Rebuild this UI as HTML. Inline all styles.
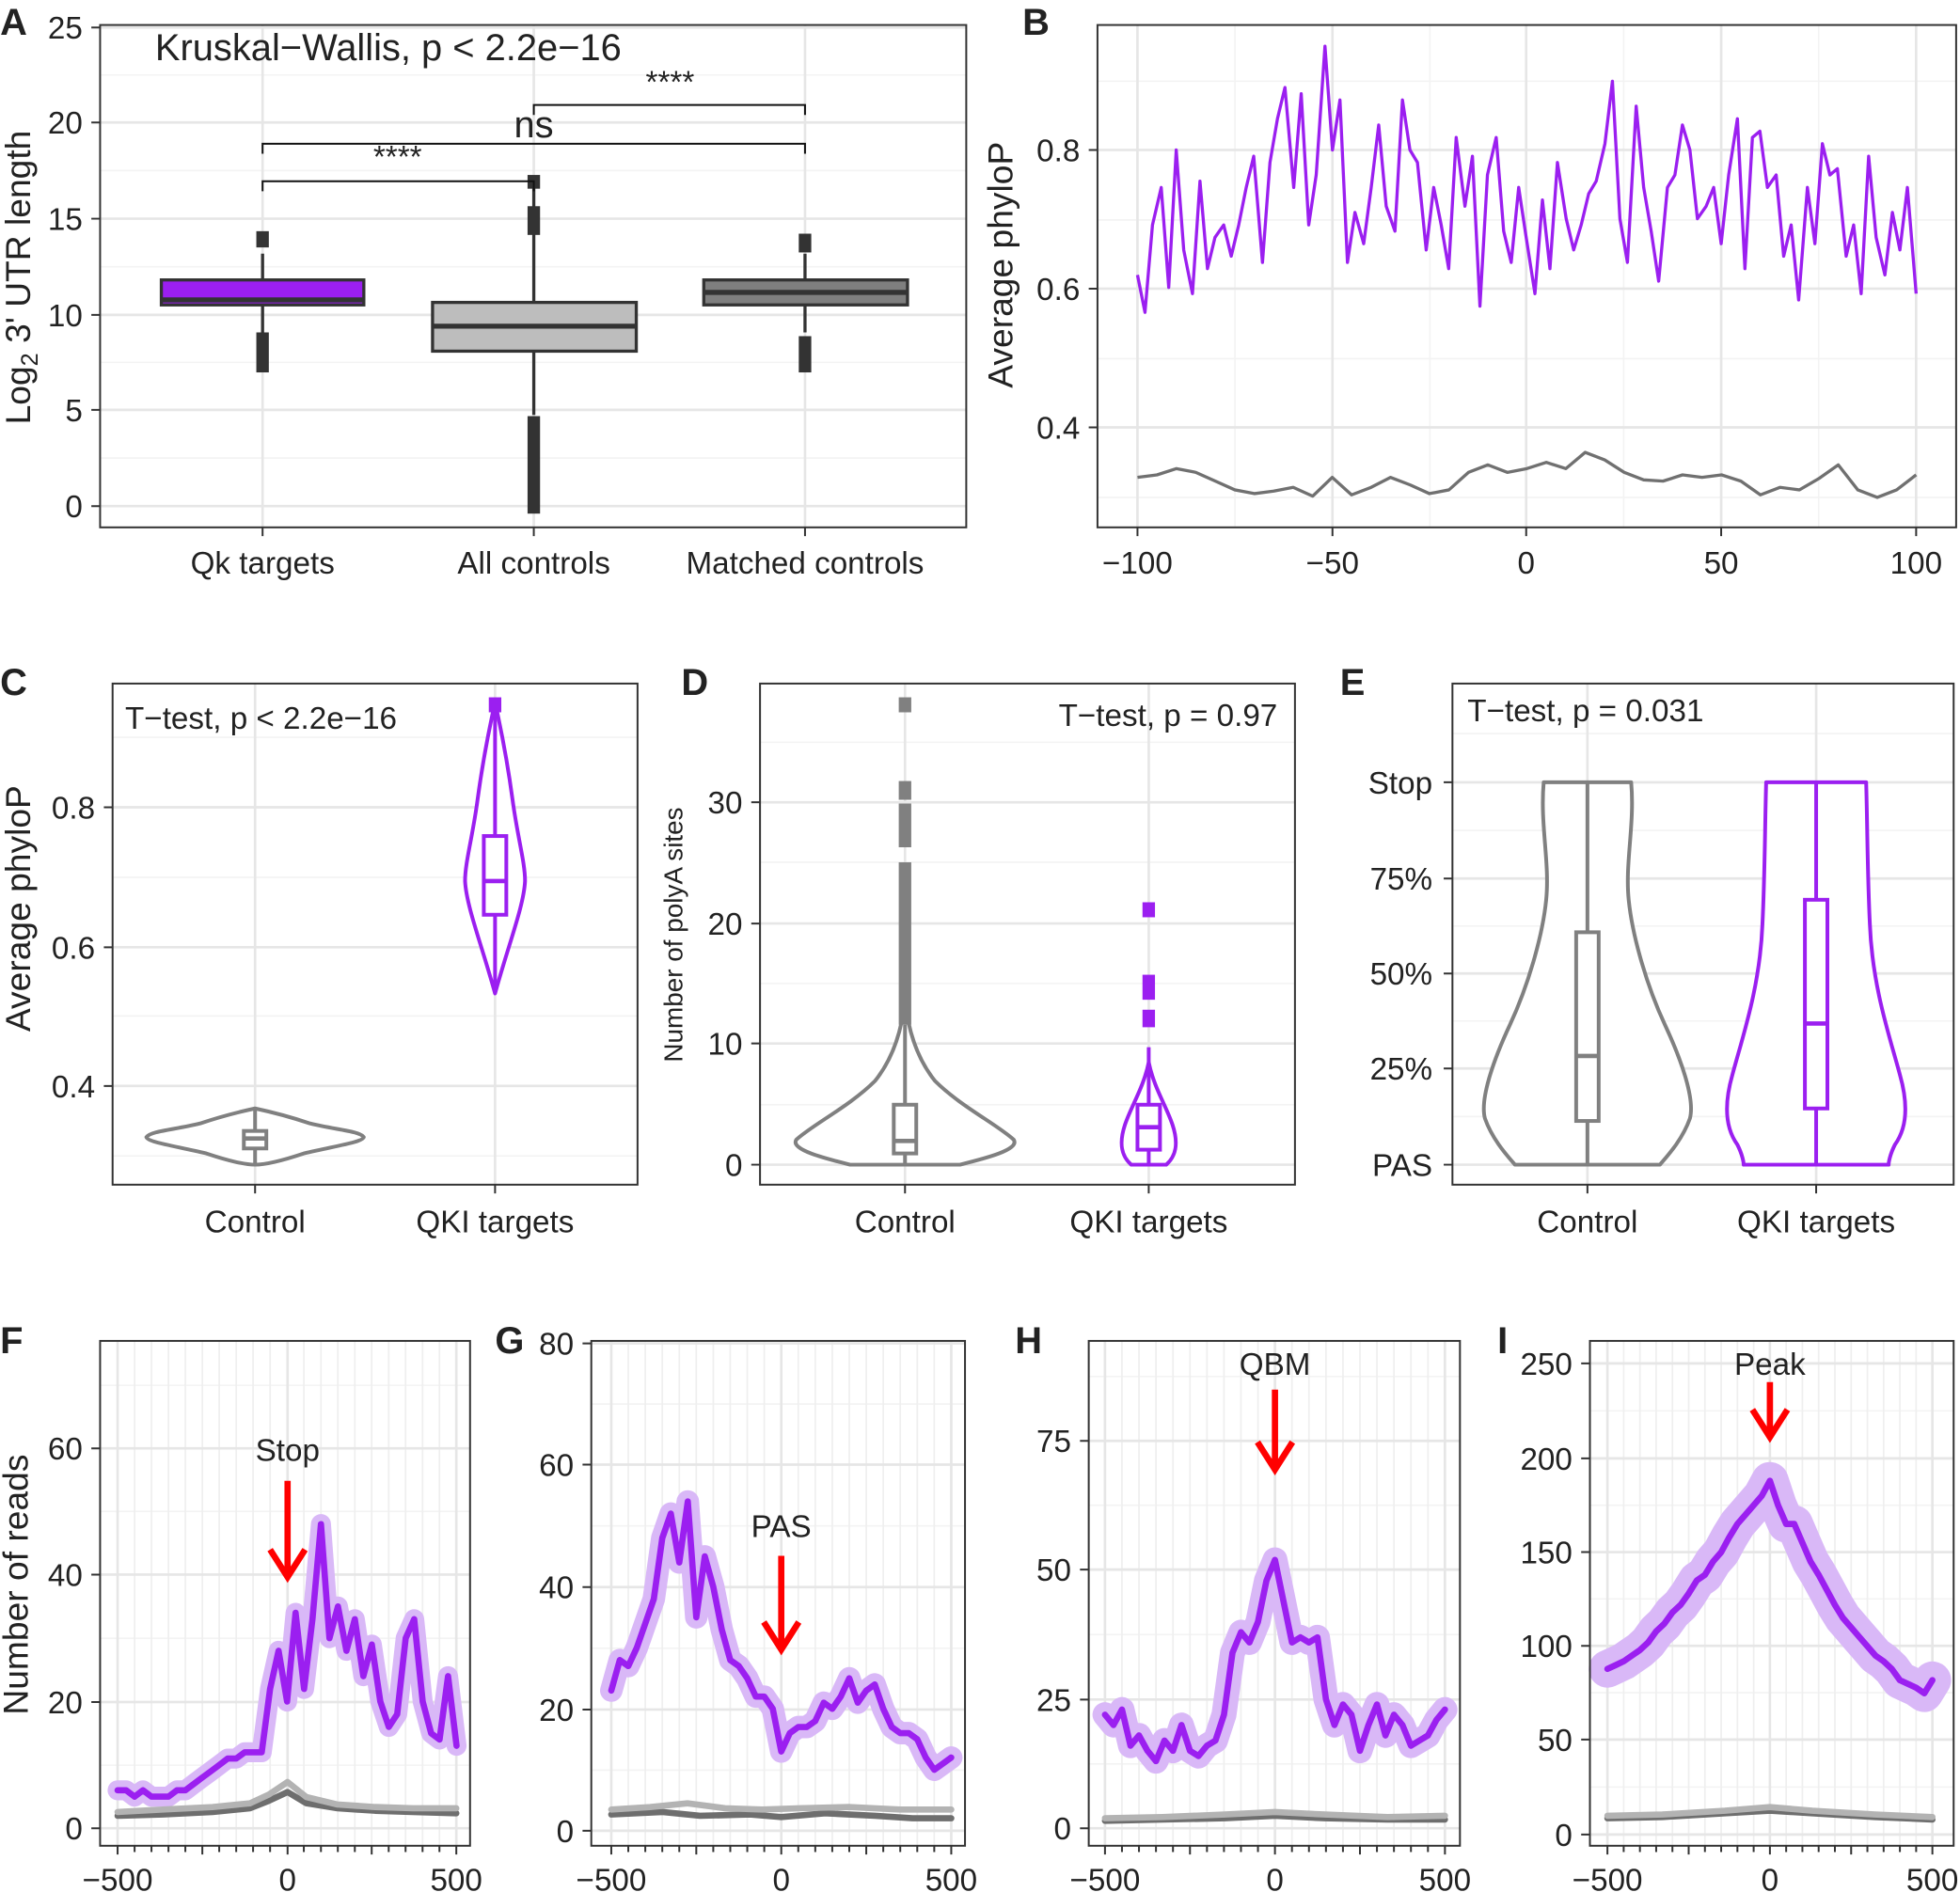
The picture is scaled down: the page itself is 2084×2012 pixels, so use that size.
<!DOCTYPE html>
<html><head><meta charset="utf-8"><style>
html,body{margin:0;padding:0;background:#fff}
svg{display:block}
text{font-family:"Liberation Sans",sans-serif;fill:#222}
</style></head><body>
<svg width="2084" height="2012" viewBox="0 0 1568 1514" xmlns="http://www.w3.org/2000/svg">
<rect width="1568" height="1514" fill="#fff"/>
<!-- minor grid -->
<g fill="none" stroke="#f3f3f3" stroke-width="1.2">
<path d="M80 366.5H773M80 290H773M80 213.5H773M80 136.5H773M80 60H773"/>
<path d="M878 398H1565M878 287H1565M878 176H1565M878 65H1565M988 20V422M1144 20V422M1299 20V422M1455 20V422"/>
<path d="M90 925H510M90 813H510M90 702H510M90 590H510"/>
<path d="M608 884H1036M608 787H1036M608 690H1036M608 594H1036"/>
<path d="M1162 893.5H1563M1162 817H1563M1162 741H1563M1162 664.5H1563M1162 587H1563"/>
<path d="M80 1412.5H376M80 1311H376M80 1209.5H376M80 1108.5H376"/>
<path d="M473 1416.5H772M473 1319H772M473 1221H772M473 1123.5H772"/>
<path d="M871 1411.5H1168M871 1308H1168M871 1204.5H1168M871 1101.5H1168"/>
<path d="M1272 1430H1563M1272 1354.5H1563M1272 1279.5H1563M1272 1204.5H1563M1272 1129H1563"/>
</g>
<g fill="none" stroke="#efefef" stroke-width="1.3">
<path d="M107.6 1073V1477M121.1 1073V1477M134.7 1073V1477M148.2 1073V1477M161.8 1073V1477M175.3 1073V1477M188.9 1073V1477M202.4 1073V1477M216 1073V1477M243 1073V1477M256.7 1073V1477M270.2 1073V1477M283.8 1073V1477M297.3 1073V1477M310.9 1073V1477M324.4 1073V1477M338 1073V1477M351.5 1073V1477"/>
<path d="M502.6 1073V1477M516.2 1073V1477M529.8 1073V1477M543.4 1073V1477M557 1073V1477M570.6 1073V1477M584.2 1073V1477M597.8 1073V1477M611.4 1073V1477M638.6 1073V1477M652.2 1073V1477M665.8 1073V1477M679.4 1073V1477M693 1073V1477M706.6 1073V1477M720.2 1073V1477M733.8 1073V1477M747.4 1073V1477"/>
<path d="M897.6 1073V1477M911.2 1073V1477M924.8 1073V1477M938.4 1073V1477M952 1073V1477M965.6 1073V1477M979.2 1073V1477M992.8 1073V1477M1006.4 1073V1477M1033.6 1073V1477M1047.2 1073V1477M1060.8 1073V1477M1074.4 1073V1477M1088 1073V1477M1101.6 1073V1477M1115.2 1073V1477M1128.8 1073V1477M1142.4 1073V1477"/>
<path d="M1299 1073V1477M1312 1073V1477M1325 1073V1477M1338 1073V1477M1351 1073V1477M1364 1073V1477M1377 1073V1477M1390 1073V1477M1403 1073V1477M1429 1073V1477M1442 1073V1477M1455 1073V1477M1468 1073V1477M1481 1073V1477M1494 1073V1477M1507 1073V1477M1520 1073V1477M1533 1073V1477"/>
</g>
<!-- major grid -->
<g fill="none" stroke="#e6e6e6" stroke-width="2">
<path d="M80 405H773M80 328H773M80 252H773M80 175H773M80 98H773M80 22H773M210 20V422M427 20V422M644 20V422"/>
<path d="M878 342H1565M878 231H1565M878 120H1565M910 20V422M1066 20V422M1221 20V422M1377 20V422M1533 20V422"/>
<path d="M90 869H510M90 758H510M90 646H510M204 547V948M396 547V948"/>
<path d="M608 932H1036M608 835H1036M608 739H1036M608 642H1036M724 547V948M919 547V948"/>
<path d="M1162 932H1563M1162 855H1563M1162 779H1563M1162 703H1563M1162 626H1563M1270 547V948M1453 547V948"/>
<path d="M80 1463H376M80 1362H376M80 1260H376M80 1159H376M94 1073V1477M230 1073V1477M365 1073V1477"/>
<path d="M473 1465H772M473 1368H772M473 1270H772M473 1172H772M473 1075H772M489 1073V1477M625 1073V1477M761 1073V1477"/>
<path d="M871 1463H1168M871 1360H1168M871 1256H1168M871 1153H1168M884 1073V1477M1020 1073V1477M1156 1073V1477"/>
<path d="M1272 1468H1563M1272 1392H1563M1272 1317H1563M1272 1242H1563M1272 1167H1563M1272 1091H1563M1286 1073V1477M1416 1073V1477M1546 1073V1477"/>
</g>
<!-- ticks -->
<g fill="none" stroke="#333" stroke-width="1.5">
<path d="M73 405H80M73 328H80M73 252H80M73 175H80M73 98H80M73 22H80M210 422V429M427 422V429M644 422V429"/>
<path d="M871 342H878M871 231H878M871 120H878M910 422V429M1066 422V429M1221 422V429M1377 422V429M1533 422V429"/>
<path d="M83 869H90M83 758H90M83 646H90M204 948V955M396 948V955"/>
<path d="M601 932H608M601 835H608M601 739H608M601 642H608M724 948V955M919 948V955"/>
<path d="M1155 932H1162M1155 855H1162M1155 779H1162M1155 703H1162M1155 626H1162M1270 948V955M1453 948V955"/>
<path d="M73 1463H80M73 1362H80M73 1260H80M73 1159H80"/>
<path d="M466 1465H473M466 1368H473M466 1270H473M466 1172H473M466 1075H473"/>
<path d="M864 1463H871M864 1360H871M864 1256H871M864 1153H871"/>
<path d="M1265 1468H1272M1265 1392H1272M1265 1317H1272M1265 1242H1272M1265 1167H1272M1265 1091H1272"/>
<path d="M94 1477V1484M107.6 1477V1482M121.1 1477V1482M134.7 1477V1482M148.2 1477V1482M161.8 1477V1484M175.3 1477V1482M188.9 1477V1482M202.4 1477V1482M216 1477V1482M230 1477V1484M243 1477V1482M256.7 1477V1482M270.2 1477V1482M283.8 1477V1482M297.3 1477V1484M310.9 1477V1482M324.4 1477V1482M338 1477V1482M351.5 1477V1482M365 1477V1484"/>
<path d="M489 1477V1484M502.6 1477V1482M516.2 1477V1482M529.8 1477V1482M543.4 1477V1482M557 1477V1484M570.6 1477V1482M584.2 1477V1482M597.8 1477V1482M611.4 1477V1482M625 1477V1484M638.6 1477V1482M652.2 1477V1482M665.8 1477V1482M679.4 1477V1482M693 1477V1484M706.6 1477V1482M720.2 1477V1482M733.8 1477V1482M747.4 1477V1482M761 1477V1484"/>
<path d="M884 1477V1484M897.6 1477V1482M911.2 1477V1482M924.8 1477V1482M938.4 1477V1482M952 1477V1484M965.6 1477V1482M979.2 1477V1482M992.8 1477V1482M1006.4 1477V1482M1020 1477V1484M1033.6 1477V1482M1047.2 1477V1482M1060.8 1477V1482M1074.4 1477V1482M1088 1477V1484M1101.6 1477V1482M1115.2 1477V1482M1128.8 1477V1482M1142.4 1477V1482M1156 1477V1484"/>
<path d="M1286 1477V1484M1299 1477V1482M1312 1477V1482M1325 1477V1482M1338 1477V1482M1351 1477V1484M1364 1477V1482M1377 1477V1482M1390 1477V1482M1403 1477V1482M1416 1477V1484M1429 1477V1482M1442 1477V1482M1455 1477V1482M1468 1477V1482M1481 1477V1484M1494 1477V1482M1507 1477V1482M1520 1477V1482M1533 1477V1482M1546 1477V1484"/>
</g>

<!-- Panel A boxes -->
<g stroke="#333" stroke-width="2.5">
<line x1="210" y1="203" x2="210" y2="266"/>
<rect x="129" y="224" width="162" height="20" fill="#9b1ff0"/>
<line x1="129" y1="240" x2="291" y2="240" stroke-width="4"/>
<line x1="427" y1="150" x2="427" y2="332"/>
<rect x="346" y="242" width="163" height="39" fill="#bdbdbd"/>
<line x1="346" y1="261" x2="509" y2="261" stroke-width="4"/>
<line x1="644" y1="203" x2="644" y2="266"/>
<rect x="563" y="224" width="163" height="20" fill="#7f7f7f"/>
<line x1="563" y1="234" x2="726" y2="234" stroke-width="4"/>
</g>
<g fill="#333">
<rect x="205" y="185" width="10" height="13"/><rect x="205" y="266" width="10" height="32"/>
<rect x="422" y="140" width="10" height="11"/><rect x="422" y="165" width="10" height="23"/><rect x="422" y="333" width="10" height="78"/>
<rect x="639" y="187" width="10" height="15"/><rect x="639" y="269" width="10" height="29"/>
</g>
<g fill="none" stroke="#111" stroke-width="1.5">
<path d="M210 153 V145 H427 V153"/><path d="M210 123 V115 H644 V123"/><path d="M427 92 V84 H644 V92"/>
</g>

<!-- Panel B lines -->
<polyline fill="none" stroke="#9b1ff0" stroke-width="2.5" stroke-linejoin="round" points="910,220 916,250 922,180 929,150 935,230 941,120 947,200 954,235 960,145 966,215 972,190 979,180 985,205 991,180 997,150 1003,125 1010,210 1016,130 1022,95 1028,70 1035,150 1041,75 1047,180 1053,140 1060,37 1066,120 1072,80 1078,210 1084,170 1091,195 1097,150 1103,100 1109,165 1116,185 1122,80 1128,120 1134,130 1141,200 1147,150 1153,180 1159,215 1165,110 1172,165 1178,125 1184,245 1190,140 1197,110 1203,185 1209,210 1215,150 1221,190 1228,235 1234,160 1240,215 1246,130 1253,175 1259,200 1265,180 1271,155 1277,145 1284,115 1290,65 1296,175 1302,210 1309,85 1315,150 1321,185 1327,225 1334,150 1340,140 1346,100 1352,120 1358,175 1365,165 1371,150 1377,195 1383,140 1390,95 1396,215 1402,110 1408,105 1414,150 1421,140 1427,205 1433,180 1439,240 1446,150 1452,195 1458,115 1464,140 1470,135 1477,205 1483,180 1489,235 1495,125 1501,190 1508,220 1514,170 1520,200 1526,150 1533,235"/>
<polyline fill="none" stroke="#707070" stroke-width="2.5" stroke-linejoin="round" points="910,382 925.6,380 941.2,375 956.7,378 972.3,385 987.9,392 1003.5,395 1019,393 1034.6,390 1050.2,397 1065.8,382 1081.3,396 1096.9,390 1112.5,382 1128.1,388 1143.6,395 1159.2,392 1174.8,378 1190.4,372 1205.9,378 1221.5,375 1237.1,370 1252.7,375 1268.2,362 1283.8,368 1299.4,378 1315,384 1330.5,385 1346.1,380 1361.7,382 1377.3,380 1392.8,385 1408.4,396 1424,390 1439.6,392 1455.1,383 1470.7,372 1486.3,392 1501.9,398 1517.4,392 1533,380"/>

<!-- Violins C -->
<g fill="#fff" stroke-width="3" stroke-linejoin="round">
<path stroke="#808080" d="M204 887 C190 890 175 894 160 899 C140 904 120 905 117 910 C118 914 140 917 165 923 C180 928 195 932 204 932 C213 932 228 928 243 923 C268 917 290 914 291 910 C288 905 268 904 248 899 C233 894 218 890 204 887Z"/>
<path stroke="#9b1ff0" d="M396 562 C392 580 386 610 382 640 C378 670 372 690 372 705 C373 725 385 755 396 795 C407 755 419 725 420 705 C420 690 414 670 410 640 C406 610 400 580 396 562Z"/>
<path stroke="#808080" d="M724 800 C722 820 716 845 700 865 C680 885 650 900 637 912 C632 920 660 927 680 932 H768 C788 927 816 920 811 912 C798 900 768 885 748 865 C732 845 726 820 724 800Z"/>
<path stroke="#9b1ff0" d="M919 850 C915 870 905 885 900 900 C895 915 897 925 905 932 H933 C941 925 943 915 938 900 C933 885 923 870 919 850Z"/>
<path stroke="#808080" d="M1235 626 H1305 C1308 660 1300 690 1303 720 C1306 750 1318 790 1332 820 C1346 850 1356 880 1352 895 C1346 912 1334 925 1328 932 H1212 C1206 925 1194 912 1188 895 C1184 880 1194 850 1208 820 C1222 790 1234 750 1237 720 C1240 690 1232 660 1235 626Z"/>
<path stroke="#9b1ff0" d="M1413 626 H1493 C1494 660 1494 700 1496 740 C1498 790 1512 830 1520 860 C1528 888 1524 905 1516 916 C1512 924 1511 930 1511 932 H1395 C1395 930 1394 924 1390 916 C1382 905 1378 888 1386 860 C1394 830 1408 790 1410 740 C1412 700 1412 660 1413 626Z"/>
</g>
<g stroke-width="3" fill="#fff">
<line x1="204" y1="887" x2="204" y2="932" stroke="#808080"/>
<rect x="195" y="905" width="18" height="14" stroke="#808080"/><line x1="195" y1="911" x2="213" y2="911" stroke="#808080" stroke-width="3.5"/>
<line x1="396" y1="562" x2="396" y2="795" stroke="#9b1ff0"/>
<rect x="387" y="669" width="18" height="63" stroke="#9b1ff0"/><line x1="387" y1="705" x2="405" y2="705" stroke="#9b1ff0" stroke-width="3.5"/>
<line x1="724" y1="820" x2="724" y2="932" stroke="#808080"/>
<rect x="715" y="884" width="18" height="39" stroke="#808080"/><line x1="715" y1="913" x2="733" y2="913" stroke="#808080" stroke-width="3.5"/>
<line x1="919" y1="838" x2="919" y2="932" stroke="#9b1ff0"/>
<rect x="910" y="884" width="18" height="36" stroke="#9b1ff0"/><line x1="910" y1="902" x2="928" y2="902" stroke="#9b1ff0" stroke-width="3.5"/>
<line x1="1270" y1="626" x2="1270" y2="932" stroke="#808080"/>
<rect x="1261" y="746" width="18" height="151" stroke="#808080"/><line x1="1261" y1="845" x2="1279" y2="845" stroke="#808080" stroke-width="3.5"/>
<line x1="1453" y1="626" x2="1453" y2="932" stroke="#9b1ff0"/>
<rect x="1444" y="720" width="18" height="167" stroke="#9b1ff0"/><line x1="1444" y1="819" x2="1462" y2="819" stroke="#9b1ff0" stroke-width="3.5"/>
</g>
<g fill="#9b1ff0"><rect x="391" y="558" width="10" height="12"/><rect x="914" y="722" width="10" height="12"/><rect x="914" y="780" width="10" height="20"/><rect x="914" y="808" width="10" height="14"/></g>
<g fill="#808080"><rect x="719" y="558" width="10" height="12"/><rect x="719" y="625" width="10" height="15"/><rect x="719" y="643" width="10" height="35"/><rect x="719" y="690" width="10" height="130"/></g>

<!-- F -->
<g fill="none" stroke-linejoin="round" stroke-linecap="round">
<polyline stroke="#d9b8f7" stroke-width="16" points="94,1432.6 100.8,1432.6 107.6,1437.7 114.3,1432.6 121.1,1437.7 127.9,1437.7 134.7,1437.7 141.5,1432.6 148.2,1432.6 155,1427.5 161.8,1422.4 168.6,1417.4 175.4,1412.3 182.1,1407.2 188.9,1407.2 195.7,1402.2 202.5,1402.2 209.3,1402.2 216,1351.5 222.8,1321 229.6,1361.6 236.4,1290.6 243.2,1351.5 249.9,1295.7 256.7,1219.6 263.5,1310.9 270.3,1285.5 277.1,1321 283.8,1295.7 290.6,1341.3 297.4,1316 304.2,1361.6 311,1381.9 317.7,1371.7 324.5,1310.9 331.3,1295.7 338.1,1361.6 344.9,1387 351.6,1392 358.4,1341.3 365.2,1397"/>
<polyline stroke="#6e6e6e" stroke-width="5" points="94,1453 130,1452 170,1450 200,1447 215,1441 230,1434 245,1443 270,1447 300,1449 330,1450 365,1451"/>
<polyline stroke="#b3b3b3" stroke-width="5" points="94,1450 130,1448 170,1446 200,1443 215,1436 230,1426 245,1438 270,1444 300,1446 330,1447 365,1447"/>
<polyline stroke="#9b1ff0" stroke-width="5" points="94,1432.6 100.8,1432.6 107.6,1437.7 114.3,1432.6 121.1,1437.7 127.9,1437.7 134.7,1437.7 141.5,1432.6 148.2,1432.6 155,1427.5 161.8,1422.4 168.6,1417.4 175.4,1412.3 182.1,1407.2 188.9,1407.2 195.7,1402.2 202.5,1402.2 209.3,1402.2 216,1351.5 222.8,1321 229.6,1361.6 236.4,1290.6 243.2,1351.5 249.9,1295.7 256.7,1219.6 263.5,1310.9 270.3,1285.5 277.1,1321 283.8,1295.7 290.6,1341.3 297.4,1316 304.2,1361.6 311,1381.9 317.7,1371.7 324.5,1310.9 331.3,1295.7 338.1,1361.6 344.9,1387 351.6,1392 358.4,1341.3 365.2,1397"/>
</g>
<!-- G -->
<g fill="none" stroke-linejoin="round" stroke-linecap="round">
<polyline stroke="#d9b8f7" stroke-width="18" points="489,1352.8 495.8,1328.4 502.6,1333.2 509.4,1318.6 516.2,1299.1 523,1279.6 529.8,1230.8 536.6,1211.2 543.4,1250.3 550.2,1201.5 557,1294.2 563.8,1245.4 570.6,1269.8 577.4,1304 584.2,1328.4 591,1333.2 597.8,1343 604.6,1357.6 611.4,1357.6 618.2,1367.4 625,1401.6 631.8,1386.9 638.6,1382 645.4,1382 652.2,1377.2 659,1362.5 665.8,1367.4 672.6,1357.6 679.4,1343 686.2,1362.5 693,1352.8 699.8,1347.9 706.6,1367.4 713.4,1382 720.2,1386.9 727,1386.9 733.8,1391.8 740.6,1406.4 747.4,1416.2 754.2,1411.3 761,1406.4"/>
<polyline stroke="#6e6e6e" stroke-width="5" points="489,1452 530,1450 560,1453 600,1452 625,1454 660,1451 700,1453 730,1455 761,1455"/>
<polyline stroke="#b3b3b3" stroke-width="5" points="489,1448 520,1446 550,1443 580,1447 610,1448 640,1447 680,1446 720,1448 761,1448"/>
<polyline stroke="#9b1ff0" stroke-width="5" points="489,1352.8 495.8,1328.4 502.6,1333.2 509.4,1318.6 516.2,1299.1 523,1279.6 529.8,1230.8 536.6,1211.2 543.4,1250.3 550.2,1201.5 557,1294.2 563.8,1245.4 570.6,1269.8 577.4,1304 584.2,1328.4 591,1333.2 597.8,1343 604.6,1357.6 611.4,1357.6 618.2,1367.4 625,1401.6 631.8,1386.9 638.6,1382 645.4,1382 652.2,1377.2 659,1362.5 665.8,1367.4 672.6,1357.6 679.4,1343 686.2,1362.5 693,1352.8 699.8,1347.9 706.6,1367.4 713.4,1382 720.2,1386.9 727,1386.9 733.8,1391.8 740.6,1406.4 747.4,1416.2 754.2,1411.3 761,1406.4"/>
</g>
<!-- H -->
<g fill="none" stroke-linejoin="round" stroke-linecap="round">
<polyline stroke="#d9b8f7" stroke-width="20" points="884,1372.1 890.8,1380.4 897.6,1368 904.4,1396.9 911.2,1388.7 918,1401 924.8,1409.3 931.6,1392.8 938.4,1401 945.2,1380.4 952,1401 958.8,1405.2 965.6,1396.9 972.4,1392.8 979.2,1372.1 986,1322.6 992.8,1306.1 999.6,1314.3 1006.4,1297.8 1013.2,1264.8 1020,1248.2 1026.8,1281.3 1033.6,1314.3 1040.4,1310.2 1047.2,1314.3 1054,1310.2 1060.8,1359.8 1067.6,1380.4 1074.4,1363.9 1081.2,1372.1 1088,1401 1094.8,1380.4 1101.6,1363.9 1108.4,1388.7 1115.2,1372.1 1122,1380.4 1128.8,1396.9 1135.6,1392.8 1142.4,1388.7 1149.2,1376.3 1156,1368"/>
<polyline stroke="#6e6e6e" stroke-width="5" points="884,1457 930,1456 980,1455 1020,1453 1060,1455 1110,1456 1156,1456"/>
<polyline stroke="#b3b3b3" stroke-width="5" points="884,1455 930,1454 980,1452 1020,1450 1060,1452 1110,1454 1156,1453"/>
<polyline stroke="#9b1ff0" stroke-width="5" points="884,1372.1 890.8,1380.4 897.6,1368 904.4,1396.9 911.2,1388.7 918,1401 924.8,1409.3 931.6,1392.8 938.4,1401 945.2,1380.4 952,1401 958.8,1405.2 965.6,1396.9 972.4,1392.8 979.2,1372.1 986,1322.6 992.8,1306.1 999.6,1314.3 1006.4,1297.8 1013.2,1264.8 1020,1248.2 1026.8,1281.3 1033.6,1314.3 1040.4,1310.2 1047.2,1314.3 1054,1310.2 1060.8,1359.8 1067.6,1380.4 1074.4,1363.9 1081.2,1372.1 1088,1401 1094.8,1380.4 1101.6,1363.9 1108.4,1388.7 1115.2,1372.1 1122,1380.4 1128.8,1396.9 1135.6,1392.8 1142.4,1388.7 1149.2,1376.3 1156,1368"/>
</g>
<!-- I -->
<g fill="none" stroke-linejoin="round" stroke-linecap="round">
<polyline stroke="#d9b8f7" stroke-width="30" points="1286,1335.5 1292.5,1332.5 1299,1329.4 1305.5,1324.9 1312,1320.4 1318.5,1314.4 1325,1305.4 1331.5,1299.3 1338,1290.3 1344.5,1284.3 1351,1275.2 1357.5,1264.7 1364,1260.2 1370.5,1249.6 1377,1242.1 1383.5,1230.1 1390,1219.5 1396.5,1212 1403,1204.5 1409.5,1197 1416,1184.9 1422.5,1204.5 1429,1219.5 1435.5,1219.5 1442,1234.6 1448.5,1249.6 1455,1260.2 1461.5,1272.2 1468,1284.3 1474.5,1294.8 1481,1302.3 1487.5,1309.9 1494,1317.4 1500.5,1324.9 1507,1329.4 1513.5,1335.5 1520,1344.5 1526.5,1347.5 1533,1350.5 1539.5,1355 1546,1344.5"/>
<polyline stroke="#6e6e6e" stroke-width="5" points="1286,1455 1330,1454 1380,1451 1416,1449 1450,1451 1500,1454 1546,1456"/>
<polyline stroke="#b3b3b3" stroke-width="5" points="1286,1453 1330,1452 1380,1449 1416,1446 1450,1449 1500,1452 1546,1454"/>
<polyline stroke="#9b1ff0" stroke-width="5" points="1286,1335.5 1292.5,1332.5 1299,1329.4 1305.5,1324.9 1312,1320.4 1318.5,1314.4 1325,1305.4 1331.5,1299.3 1338,1290.3 1344.5,1284.3 1351,1275.2 1357.5,1264.7 1364,1260.2 1370.5,1249.6 1377,1242.1 1383.5,1230.1 1390,1219.5 1396.5,1212 1403,1204.5 1409.5,1197 1416,1184.9 1422.5,1204.5 1429,1219.5 1435.5,1219.5 1442,1234.6 1448.5,1249.6 1455,1260.2 1461.5,1272.2 1468,1284.3 1474.5,1294.8 1481,1302.3 1487.5,1309.9 1494,1317.4 1500.5,1324.9 1507,1329.4 1513.5,1335.5 1520,1344.5 1526.5,1347.5 1533,1350.5 1539.5,1355 1546,1344.5"/>
</g>
<!-- arrows -->
<g fill="none" stroke="#ff0000" stroke-width="5">
<path d="M230 1185V1258M216 1240L230 1262L244 1240"/>
<path d="M625 1245V1316M611 1298L625 1320L639 1298"/>
<path d="M1020 1112V1172M1006 1154L1020 1176L1034 1154"/>
<path d="M1416 1106V1146M1402 1128L1416 1150L1430 1128"/>
</g>

<!-- frames -->
<g fill="none" stroke="#333" stroke-width="1.5">
<rect x="80" y="20" width="693" height="402"/>
<rect x="878" y="20" width="687" height="402"/>
<rect x="90" y="547" width="420" height="401"/>
<rect x="608" y="547" width="428" height="401"/>
<rect x="1162" y="547" width="401" height="401"/>
<rect x="80" y="1073" width="296" height="404"/>
<rect x="473" y="1073" width="299" height="404"/>
<rect x="871" y="1073" width="297" height="404"/>
<rect x="1272" y="1073" width="291" height="404"/>
</g>

<g font-size="24">
<text x="0" y="28" font-size="30" font-weight="bold">A</text>
<text x="818" y="28" font-size="30" font-weight="bold">B</text>
<text x="0" y="556" font-size="30" font-weight="bold">C</text>
<text x="545" y="556" font-size="30" font-weight="bold">D</text>
<text x="1072" y="556" font-size="30" font-weight="bold">E</text>
<text x="0" y="1083" font-size="30" font-weight="bold">F</text>
<text x="396" y="1083" font-size="30" font-weight="bold">G</text>
<text x="812" y="1083" font-size="30" font-weight="bold">H</text>
<text x="1198" y="1083" font-size="30" font-weight="bold">I</text>
<g text-anchor="end" font-size="25">
<text x="66" y="414">0</text><text x="66" y="337">5</text><text x="66" y="261">10</text><text x="66" y="184">15</text><text x="66" y="107">20</text><text x="66" y="31">25</text>
<text x="864" y="351">0.4</text><text x="864" y="240">0.6</text><text x="864" y="129">0.8</text>
<text x="76" y="878">0.4</text><text x="76" y="767">0.6</text><text x="76" y="655">0.8</text>
<text x="594" y="941">0</text><text x="594" y="844">10</text><text x="594" y="748">20</text><text x="594" y="651">30</text>
<text x="1146" y="941">PAS</text><text x="1146" y="864">25%</text><text x="1146" y="788">50%</text><text x="1146" y="712">75%</text><text x="1146" y="635">Stop</text>
<text x="66" y="1472">0</text><text x="66" y="1371">20</text><text x="66" y="1269">40</text><text x="66" y="1168">60</text>
<text x="459" y="1474">0</text><text x="459" y="1377">20</text><text x="459" y="1279">40</text><text x="459" y="1181">60</text><text x="459" y="1084">80</text>
<text x="857" y="1472">0</text><text x="857" y="1369">25</text><text x="857" y="1265">50</text><text x="857" y="1162">75</text>
<text x="1258" y="1477">0</text><text x="1258" y="1401">50</text><text x="1258" y="1326">100</text><text x="1258" y="1251">150</text><text x="1258" y="1176">200</text><text x="1258" y="1100">250</text>
</g>
<g text-anchor="middle" font-size="25">
<text x="210" y="459">Qk targets</text><text x="427" y="459">All controls</text><text x="644" y="459">Matched controls</text>
<text x="910" y="459">−100</text><text x="1066" y="459">−50</text><text x="1221" y="459">0</text><text x="1377" y="459">50</text><text x="1533" y="459">100</text>
<text x="204" y="986">Control</text><text x="396" y="986">QKI targets</text>
<text x="724" y="986">Control</text><text x="919" y="986">QKI targets</text>
<text x="1270" y="986">Control</text><text x="1453" y="986">QKI targets</text>
<text x="94" y="1513">−500</text><text x="230" y="1513">0</text><text x="365" y="1513">500</text>
<text x="489" y="1513">−500</text><text x="625" y="1513">0</text><text x="761" y="1513">500</text>
<text x="884" y="1513">−500</text><text x="1020" y="1513">0</text><text x="1156" y="1513">500</text>
<text x="1286" y="1513">−500</text><text x="1416" y="1513">0</text><text x="1546" y="1513">500</text>
<text x="230" y="1169">Stop</text><text x="625" y="1230">PAS</text><text x="1020" y="1100">QBM</text><text x="1416" y="1100">Peak</text>
</g>
<text x="124" y="48" font-size="30">Kruskal−Wallis, p &lt; 2.2e−16</text>
<text x="318" y="134" font-size="25" text-anchor="middle">****</text>
<text x="427" y="110" font-size="30" text-anchor="middle">ns</text>
<text x="536" y="74" font-size="25" text-anchor="middle">****</text>
<text x="100" y="583" font-size="25">T−test, p &lt; 2.2e−16</text>
<text x="1022" y="581" font-size="25" text-anchor="end">T−test, p = 0.97</text>
<text x="1174" y="577" font-size="25">T−test, p = 0.031</text>
<text transform="translate(24,222) rotate(-90)" font-size="28" text-anchor="middle">Log<tspan font-size="19" dy="6">2</tspan><tspan dy="-6"> 3' UTR length</tspan></text>
<text transform="translate(810,212) rotate(-90)" font-size="28" text-anchor="middle">Average phyloP</text>
<text transform="translate(24,727) rotate(-90)" font-size="28" text-anchor="middle">Average phyloP</text>
<text transform="translate(546,748) rotate(-90)" font-size="21" text-anchor="middle">Number of polyA sites</text>
<text transform="translate(22,1268) rotate(-90)" font-size="28" text-anchor="middle">Number of reads</text>
</g>
</svg>
</body></html>
